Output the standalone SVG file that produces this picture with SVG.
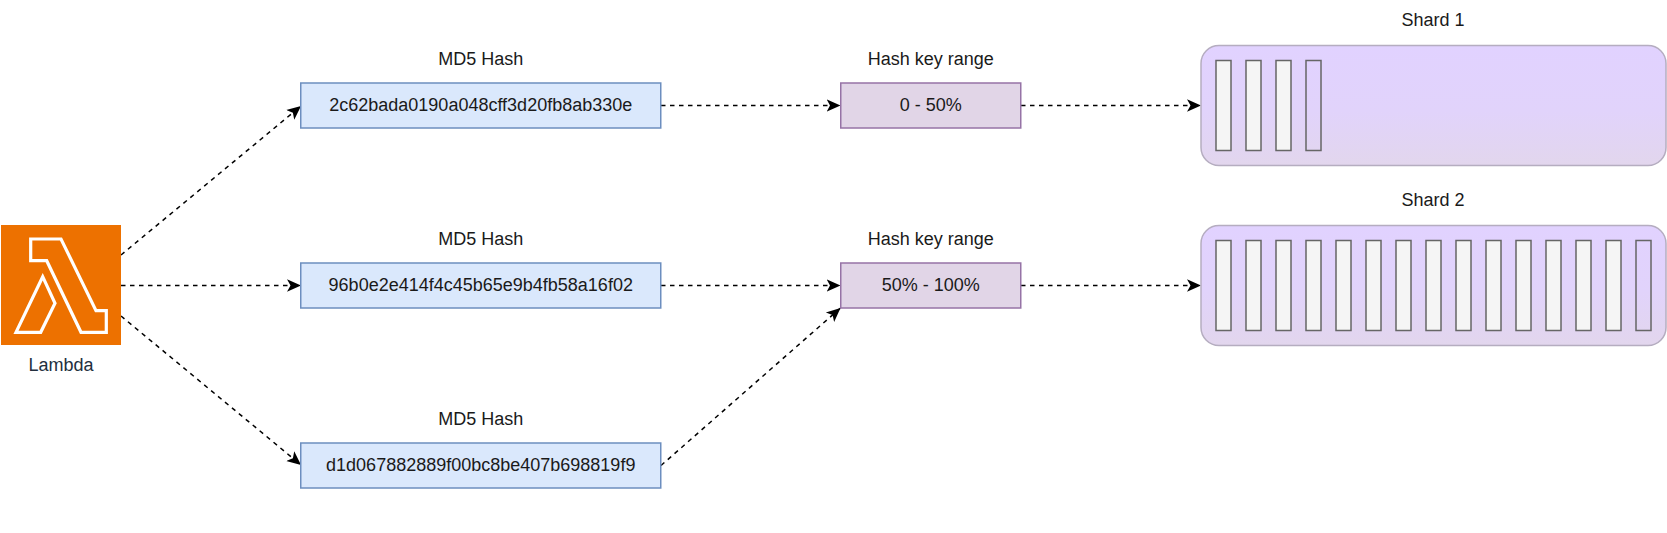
<svg xmlns="http://www.w3.org/2000/svg" width="1667" height="533" viewBox="0 0 1667 533">
<style>
text{font-family:"Liberation Sans",Arial,sans-serif;font-size:18px;fill:#1a1a1a;text-anchor:middle}
.hash{fill:#dae8fc;stroke:#6c8ebf;stroke-width:1.5}
.range{fill:#e1d5e7;stroke:#9673a6;stroke-width:1.5}
.shard{fill:url(#sg);stroke:#b5adc0;stroke-width:1.5}
.rec{fill:#f5f5f5;stroke:#666;stroke-width:1.5}
.empty{fill:none;stroke:#666;stroke-width:1.5}
.c{fill:none;stroke:#000;stroke-width:1.5;stroke-dasharray:4.5 4.5;marker-end:url(#a)}
</style>
<defs>
<linearGradient id="sg" x1="0" y1="0" x2="0" y2="1"><stop offset="0" stop-color="#e1d2ff"/><stop offset="0.55" stop-color="#e1d3fb"/><stop offset="1" stop-color="#e2d6ed"/></linearGradient>
<marker id="a" markerUnits="userSpaceOnUse" markerWidth="15" markerHeight="15" refX="14" refY="7.500" orient="auto"><path d="M0 1.200L14 7.500L0 13.800L3.500 7.500Z" fill="#000"/></marker>
</defs>
<g id="connectors">
<path class="c" d="M121 255L301 106"/>
<path class="c" d="M121 285.500L301 285.500"/>
<path class="c" d="M121 316L301 465"/>
<path class="c" d="M661 105.500L840.500 105.500"/>
<path class="c" d="M661 285.500L840.500 285.500"/>
<path class="c" d="M661 465.500L840.500 308"/>
<path class="c" d="M1021 105.500L1201 105.500"/>
<path class="c" d="M1021 285.500L1201 285.500"/>
</g>
<g id="lambda">
<rect x="1" y="225" width="120" height="120" fill="#ed7100"/>
<path d="M30.700 239H61L96 310.700H106.300V332.300H81L46.700 260.700H30.700ZM42.700 276.700L55 303.300L40.700 332.300H16Z" fill="none" stroke="#fff" stroke-width="3.200" stroke-linejoin="miter"/>
<text x="61" y="371" style="fill:#232f3e">Lambda</text>
</g>
<g id="hash1"><text x="480.750" y="65">MD5 Hash</text><rect class="hash" x="300.750" y="83" width="360" height="45"/><text x="480.750" y="111">2c62bada0190a048cff3d20fb8ab330e</text></g>
<g id="hash2"><text x="480.750" y="245">MD5 Hash</text><rect class="hash" x="300.750" y="263" width="360" height="45"/><text x="480.750" y="291">96b0e2e414f4c45b65e9b4fb58a16f02</text></g>
<g id="hash3"><text x="480.750" y="425">MD5 Hash</text><rect class="hash" x="300.750" y="443" width="360" height="45"/><text x="480.750" y="471">d1d067882889f00bc8be407b698819f9</text></g>
<g id="range1"><text x="930.750" y="65">Hash key range</text><rect class="range" x="840.750" y="83" width="180" height="45"/><text x="930.750" y="111">0 - 50%</text></g>
<g id="range2"><text x="930.750" y="245">Hash key range</text><rect class="range" x="840.750" y="263" width="180" height="45"/><text x="930.750" y="291">50% - 100%</text></g>
<g id="shard1"><text x="1433" y="26">Shard 1</text>
<rect class="shard" x="1201" y="45.500" width="465" height="120" rx="18"/>
<rect class="rec" x="1216" y="60.500" width="15" height="90"/>
<rect class="rec" x="1246" y="60.500" width="15" height="90"/>
<rect class="rec" x="1276" y="60.500" width="15" height="90"/>
<rect class="empty" x="1306" y="60.500" width="15" height="90"/>
</g>
<g id="shard2"><text x="1433" y="206">Shard 2</text>
<rect class="shard" x="1201" y="225.500" width="465" height="120" rx="18"/>
<rect class="rec" x="1216" y="240.500" width="15" height="90"/>
<rect class="rec" x="1246" y="240.500" width="15" height="90"/>
<rect class="rec" x="1276" y="240.500" width="15" height="90"/>
<rect class="rec" x="1306" y="240.500" width="15" height="90"/>
<rect class="rec" x="1336" y="240.500" width="15" height="90"/>
<rect class="rec" x="1366" y="240.500" width="15" height="90"/>
<rect class="rec" x="1396" y="240.500" width="15" height="90"/>
<rect class="rec" x="1426" y="240.500" width="15" height="90"/>
<rect class="rec" x="1456" y="240.500" width="15" height="90"/>
<rect class="rec" x="1486" y="240.500" width="15" height="90"/>
<rect class="rec" x="1516" y="240.500" width="15" height="90"/>
<rect class="rec" x="1546" y="240.500" width="15" height="90"/>
<rect class="rec" x="1576" y="240.500" width="15" height="90"/>
<rect class="rec" x="1606" y="240.500" width="15" height="90"/>
<rect class="empty" x="1636" y="240.500" width="15" height="90"/>
</g>
</svg>
